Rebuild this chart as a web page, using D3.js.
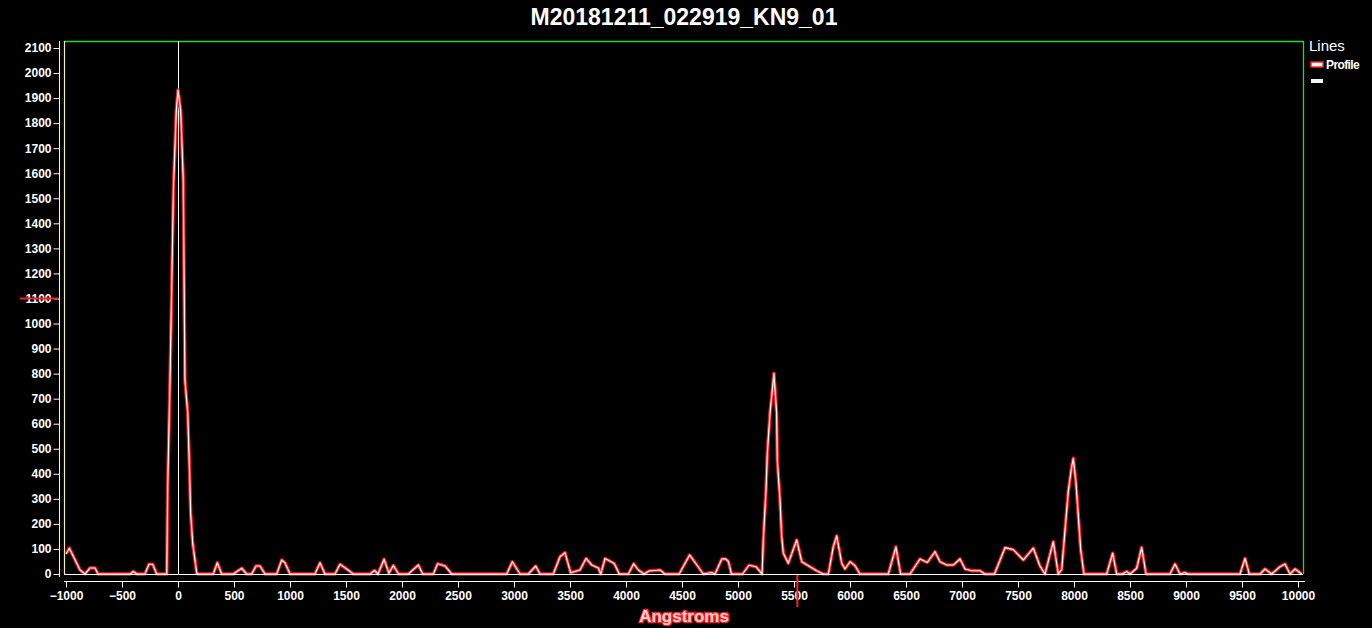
<!DOCTYPE html>
<html><head><meta charset="utf-8">
<script src="https://cdn.jsdelivr.net/npm/d3@7"></script>
<style>
html,body{margin:0;padding:0;background:#000;}
svg{display:block;font-family:"Liberation Sans",Arial,sans-serif;}
</style></head>
<body><svg id="c" width="1372" height="628"></svg>
<script>
const title = "M20181211_022919_KN9_01";
const xLabel = "Angstroms";
const legendTitle = "Lines";
const seriesNames = ["Profile", ""];
const xTicks = [-1000,-500,0,500,1000,1500,2000,2500,3000,3500,4000,4500,5000,5500,6000,6500,7000,7500,8000,8500,9000,9500,10000];
const yTicks = [0,100,200,300,400,500,600,700,800,900,1000,1100,1200,1300,1400,1500,1600,1700,1800,1900,2000,2100];
const wavelength = [-1000,-970,-875,-830,-785,-741,-714,-428,-400,-366,-295,-259,-226,-190,-100,-92,-70,-40,-15,0,24,47,62,87,101,113,131,167,180,
 315,351,390,494,569,613,658,696,732,777,881,926,955,1000,1223,1268,1312,1402,1446,1506,1565,1714,1755,1786,1840,1883,1922,1970,2056,2146,2185,2280,2318,2384,2444,
 2935,2985,3054,3128,3194,3232,3351,3411,3455,3506,3589,3643,3694,3753,3774,3813,3895,3940,4021,4068,4110,4161,4205,4304,4348,4475,4568,4631,4690,4765,4795,4855,4890,4914,4942,
 5040,5098,5160,5215,5226,5250,5262,5286,5321,5345,5351,5375,5390,5405,5449,5524,5569,5643,5702,5762,5807,5851,5881,5926,5955,6000,6045,6089,6342,6410,6452,
 6536,6625,6690,6759,6804,6863,6923,6982,7027,7086,7161,7205,7290,7384,7458,7548,7637,7696,7741,7815,7860,7890,7920,7949,7979,7994,8018,8039,8060,8089,
 8292,8345,8381,8430,8470,8500,8560,8604,8643,8857,8902,8946,8991,9020,9482,9527,9565,9661,9705,9765,9839,9884,9929,9973,10033];
const intensity = [80,103,16,0,24,24,0,0,10,0,0,39,39,0,0,350,800,1550,1850,1932,1852,1573,774,643,443,243,124,4,0,
 0,45,0,0,23,0,0,32,32,0,0,56,45,0,0,45,0,0,39,20,0,0,14,0,59,3,34,0,0,36,0,0,41,32,0,
 0,49,0,0,32,0,0,69,85,5,16,62,36,24,0,62,42,0,0,41,16,0,12,16,0,0,76,37,0,6,0,60,60,50,0,
 0,35,29,0,136,335,483,643,801,641,455,295,149,83,43,136,49,29,13,0,0,109,152,43,20,49,33,0,0,108,0,
 0,60,46,89,49,36,36,60,20,13,13,0,0,105,97,56,103,32,0,129,0,17,176,329,428,462,362,229,96,0,
 0,83,0,0,10,0,23,106,0,0,40,0,6,0,0,62,0,0,20,0,29,40,0,20,0];
const markerX = 0;       // white vertical line
const cursorX = 5530;    // red cursor on x axis
const cursorY = 1100;    // red cursor on y axis

const svg = d3.select("#c");
const L = 64, R = 1303, T = 41, B = 574;
const x = d3.scaleLinear().domain([-1000,10000]).range([66,1298]);
const y = d3.scaleLinear().domain([0,2128]).range([B,T]);

svg.append("rect").attr("width",1372).attr("height",628).attr("fill","#000");

// title
svg.append("text").attr("x",684).attr("y",25).attr("text-anchor","middle")
  .attr("fill","#fff").attr("font-size",23).attr("font-weight","bold").text(title);

// plot border
svg.append("line").attr("x1",L).attr("x2",R).attr("y1",T+0.5).attr("y2",T+0.5).attr("stroke","#22dd22").attr("stroke-width",1.3);
svg.append("line").attr("x1",R+0.5).attr("x2",R+0.5).attr("y1",T).attr("y2",B).attr("stroke","#22dd22").attr("stroke-width",1.3);
svg.append("line").attr("x1",L+0.5).attr("x2",L+0.5).attr("y1",T).attr("y2",B).attr("stroke","#f0f0b0").attr("stroke-width",1.2);

// y axis
const yAxis = svg.append("g").attr("transform","translate(59.5,0)")
  .call(d3.axisLeft(y).tickValues(yTicks).tickSize(6).tickPadding(2).tickFormat(d3.format("d")));
yAxis.select(".domain").attr("stroke","#f8f8e0").attr("d",`M0,${T}V${B+3}`);
yAxis.selectAll(".tick line").attr("stroke","#fff");
yAxis.selectAll("text").attr("fill","#fff").attr("font-size",12).attr("font-weight","bold")
  .attr("font-family","'Liberation Sans',Arial,sans-serif");

// x axis
const xAxis = svg.append("g").attr("transform","translate(0,581.5)")
  .call(d3.axisBottom(x).tickValues(xTicks).tickSize(6).tickPadding(4).tickFormat(d3.format("d")));
xAxis.select(".domain").attr("stroke","#fff").attr("d",`M${L},0H${R+2}`);
xAxis.selectAll(".tick line").attr("stroke","#fff");
xAxis.selectAll("text").attr("fill","#fff").attr("font-size",12).attr("font-weight","bold")
  .attr("font-family","'Liberation Sans',Arial,sans-serif");

// x label
svg.append("text").attr("x",684).attr("y",622).attr("text-anchor","middle")
  .attr("font-size",17).attr("font-weight","bold")
  .attr("fill","#ffd0d0").attr("stroke","#ff2020").attr("stroke-width",2.5).attr("paint-order","stroke")
  .text(xLabel);

// marker line at 0
svg.append("line").attr("x1",x(markerX)+0.5).attr("x2",x(markerX)+0.5).attr("y1",T).attr("y2",B)
  .attr("stroke","#fff").attr("stroke-width",1);

// data line
const pts = wavelength.map((w,i)=>[w,intensity[i]]);
const line = d3.line().x(d=>x(d[0])).y(d=>y(d[1]));
svg.append("path").datum(pts).attr("d",line).attr("fill","none")
  .attr("stroke","#ff1818").attr("stroke-width",3.5).attr("stroke-linejoin","round");
svg.append("path").datum(pts).attr("d",line).attr("fill","none")
  .attr("stroke","#fff").attr("stroke-width",1.2).attr("stroke-linejoin","round");

// zero baseline
svg.append("line").attr("x1",L).attr("x2",R).attr("y1",B+0.5).attr("y2",B+0.5).attr("stroke","#fff").attr("stroke-width",1.2);

// cursors
svg.append("line").attr("x1",x(cursorX)).attr("x2",x(cursorX)).attr("y1",B+1).attr("y2",607)
  .attr("stroke","#ff2020").attr("stroke-width",2);
svg.append("line").attr("x1",20).attr("x2",58).attr("y1",y(cursorY)).attr("y2",y(cursorY))
  .attr("stroke","#ff2020").attr("stroke-width",2);

// legend
svg.append("text").attr("x",1309).attr("y",51).attr("fill","#fff").attr("font-size",15).text(legendTitle);
const lg = svg.append("g");
seriesNames.forEach((n,i)=>{
  const yy = 65 + i*16;
  if(i===0){
    lg.append("rect").attr("x",1311).attr("y",yy-3).attr("width",12).attr("height",5).attr("fill","#fff")
      .attr("stroke","#ff2020").attr("stroke-width",1.5);
  } else {
    lg.append("rect").attr("x",1311).attr("y",yy-2).attr("width",12).attr("height",4).attr("fill","#f4f4f4");
  }
  lg.append("text").attr("x",1326).attr("y",yy+4).attr("fill","#fff").attr("font-size",12)
    .attr("font-weight","bold").attr("letter-spacing",-0.6).text(n);
});
</script></body></html>
